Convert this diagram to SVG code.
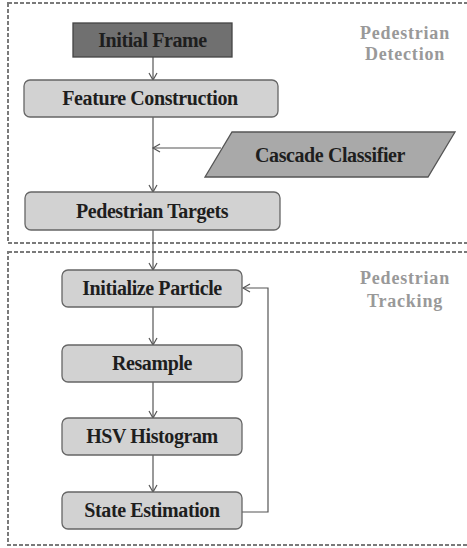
<svg xmlns="http://www.w3.org/2000/svg" width="467" height="548" viewBox="0 0 467 548">
<defs>
<style>
.frame{fill:none;stroke:#7a7a7a;stroke-width:2;stroke-dasharray:4 2}
.box{fill:#d2d2d2;stroke:#666;stroke-width:1.3}
.t{font-family:"Liberation Serif",serif;font-weight:bold;font-size:20px;fill:#1e1e1e;text-anchor:middle;letter-spacing:-0.4px}
.lab{font-family:"Liberation Serif",serif;font-size:18px;font-weight:bold;fill:#999;text-anchor:middle;letter-spacing:0.8px}
.c{fill:none;stroke:#555;stroke-width:1.2}
</style>
<marker id="ah" markerWidth="10" markerHeight="10" refX="8" refY="5" orient="auto" markerUnits="userSpaceOnUse">
<path d="M1,1 L8,5 L1,9" fill="none" stroke="#555" stroke-width="1.2"/>
</marker>
</defs>
<rect width="467" height="548" fill="#fff"/>
<g id="detection-frame">
<rect class="frame" x="8" y="3" width="470" height="240"/>
<text class="lab" x="405" y="39">Pedestrian</text>
<text class="lab" x="405" y="60">Detection</text>
</g>
<g id="tracking-frame">
<rect class="frame" x="8" y="252" width="470" height="293"/>
<text class="lab" x="405" y="284">Pedestrian</text>
<text class="lab" x="405" y="307">Tracking</text>
</g>
<g id="connectors">
<line class="c" x1="153" y1="57" x2="153" y2="80" marker-end="url(#ah)"/>
<line class="c" x1="153" y1="117" x2="153" y2="192" marker-end="url(#ah)"/>
<line class="c" x1="221" y1="148" x2="153" y2="148" marker-end="url(#ah)"/>
<line class="c" x1="153" y1="230" x2="153" y2="270" marker-end="url(#ah)"/>
<line class="c" x1="153" y1="307" x2="153" y2="345" marker-end="url(#ah)"/>
<line class="c" x1="153" y1="382" x2="153" y2="418" marker-end="url(#ah)"/>
<line class="c" x1="153" y1="455" x2="153" y2="492" marker-end="url(#ah)"/>
<polyline class="c" points="242,512 268,512 268,288 243,288" marker-end="url(#ah)"/>
</g>
<g id="initial-frame">
<rect x="73" y="23" width="159" height="34" fill="#707070" stroke="#444" stroke-width="1.3"/>
<text class="t" x="152.5" y="47">Initial Frame</text>
</g>
<g id="feature-construction">
<rect class="box" x="24" y="80" width="254" height="37" rx="6"/>
<text class="t" x="150" y="105">Feature Construction</text>
</g>
<g id="cascade-classifier">
<polygon points="232,132 455,132 428,177 205,177" fill="#a9a9a9" stroke="#555" stroke-width="1.3"/>
<text class="t" x="330" y="162">Cascade Classifier</text>
</g>
<g id="pedestrian-targets">
<rect class="box" x="25" y="192" width="255" height="38" rx="6"/>
<text class="t" x="152" y="218">Pedestrian Targets</text>
</g>
<g id="initialize-particle">
<rect class="box" x="62" y="270" width="180" height="37" rx="6"/>
<text class="t" x="152" y="295">Initialize Particle</text>
</g>
<g id="resample">
<rect class="box" x="62" y="345" width="180" height="37" rx="6"/>
<text class="t" x="152" y="370">Resample</text>
</g>
<g id="hsv-histogram">
<rect class="box" x="62" y="418" width="180" height="37" rx="6"/>
<text class="t" x="152" y="443">HSV Histogram</text>
</g>
<g id="state-estimation">
<rect class="box" x="62" y="492" width="180" height="37" rx="6"/>
<text class="t" x="152" y="517">State Estimation</text>
</g>
</svg>
